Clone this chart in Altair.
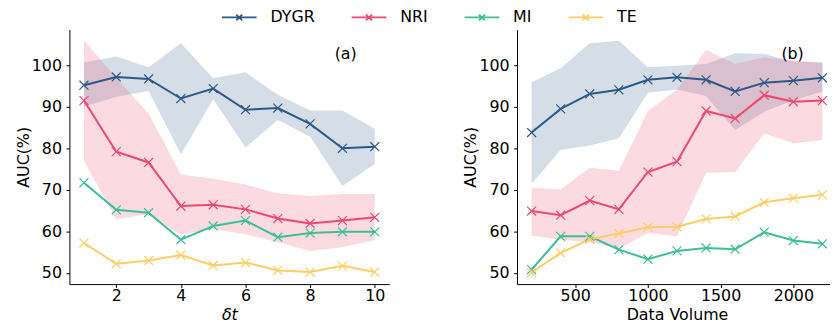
import altair as alt
import pandas as pd

series = ["DYGR", "NRI", "MI", "TE"]
colors = ["#2d5986", "#ef476f", "#3bbf96", "#ffcd66"]

# ---- panel (a): delta t ----
dt = [1, 2, 3, 4, 5, 6, 7, 8, 9, 10]
a_dygr = [95.2, 97.2, 96.7, 92.0, 94.4, 89.3, 89.7, 85.9, 80.0, 80.4]
a_dygr_hi = [100.7, 102.1, 99.5, 105.3, 96.9, 98.3, 92.9, 89.1, 89.1, 84.7]
a_dygr_lo = [90.0, 92.4, 93.8, 78.6, 91.8, 80.2, 86.8, 82.8, 70.9, 76.2]
a_nri = [91.5, 79.2, 76.6, 66.1, 66.4, 65.3, 63.1, 61.9, 62.6, 63.4]
a_nri_hi = [106.0, 97.0, 88.4, 73.7, 72.7, 71.3, 69.2, 68.5, 69.0, 69.0]
a_nri_lo = [77.0, 62.9, 64.1, 59.2, 60.5, 59.3, 57.4, 55.3, 56.2, 57.9]
a_mi = [71.7, 65.2, 64.5, 58.0, 61.3, 62.6, 58.6, 59.6, 59.9, 59.9]
a_te = [57.2, 52.2, 53.0, 54.3, 51.8, 52.5, 50.6, 50.2, 51.7, 50.2]

# ---- panel (b): data volume ----
vol = [200, 400, 600, 800, 1000, 1200, 1400, 1600, 1800, 2000, 2200]
b_dygr = [83.8, 89.5, 93.1, 94.1, 96.5, 97.1, 96.5, 93.7, 95.8, 96.3, 97.0]
b_dygr_hi = [95.9, 99.3, 105.3, 105.9, 99.5, 99.9, 100.3, 102.9, 102.7, 100.9, 100.7]
b_dygr_lo = [71.5, 79.6, 80.7, 82.4, 93.4, 94.2, 92.6, 84.4, 88.8, 91.6, 93.6]
b_nri = [64.9, 63.9, 67.4, 65.3, 74.3, 76.8, 89.0, 87.2, 92.8, 91.2, 91.5]
b_nri_hi = [70.5, 70.1, 75.3, 74.6, 89.0, 94.2, 103.7, 100.3, 101.9, 101.1, 100.7]
b_nri_lo = [59.0, 58.0, 57.4, 55.8, 59.6, 58.8, 74.1, 74.3, 83.6, 81.2, 82.0]
b_mi = [50.8, 58.8, 58.8, 55.6, 53.3, 55.3, 56.0, 55.7, 59.8, 57.8, 57.0]
b_te = [50.1, 54.8, 58.1, 59.5, 61.0, 61.1, 63.0, 63.6, 67.0, 68.0, 68.8]

labels = ["(a)", "(b)"]
label_x = [9.1, 1995]
label_y = [102.6, 102.7]

y_ticks = [50, 60, 70, 80, 90, 100]
a_ticks = [2, 4, 6, 8, 10]
b_ticks = [500, 1000, 1500, 2000]

XPATH = "M-1,-1L1,1M-1,1L1,-1"
LEGEND_PATH = "M-1,0L1,0M-0.17,-0.17L0.17,0.17M-0.17,0.17L0.17,-0.17"


def lines_df(x, vals):
    rows = []
    for s, v in zip(series, vals):
        for xi, yi in zip(x, v):
            rows.append({"x": xi, "y": yi, "series": s})
    return pd.DataFrame(rows)


def bands_df(x, his, los, names):
    rows = []
    for s, hi, lo in zip(names, his, los):
        for xi, h, l in zip(x, hi, lo):
            rows.append({"x": xi, "hi": h, "lo": l, "band": s})
    return pd.DataFrame(rows)


stroke_scale = alt.Scale(domain=series, range=colors)
legend = alt.Legend(
    title=None,
    orient="none",
    direction="horizontal",
    legendX=153,
    legendY=-31,
    symbolType=LEGEND_PATH,
    symbolSize=1225,
    symbolStrokeWidth=1.8,
    labelFontSize=16,
    labelOffset=13,
    columnPadding=33,
    padding=0,
)


def panel(ldf, bdf, tdf, xdomain, xticks, xtitle, italic, show_legend):
    lg = legend if show_legend else None
    x = alt.X(
        "x:Q",
        scale=alt.Scale(domain=xdomain, nice=False, zero=False),
        axis=alt.Axis(values=xticks, title=xtitle, format="d",
                      titleFontStyle="italic" if italic else "normal"),
    )
    yscale = alt.Scale(domain=[47.3, 108.6], nice=False, zero=False)
    y = alt.Y("y:Q", scale=yscale, axis=alt.Axis(values=y_ticks, title="AUC(%)"))
    bands = []
    for name, col in zip(series[:2], colors[:2]):
        bands.append(
            alt.Chart(bdf).transform_filter(alt.datum.band == name)
            .mark_area(opacity=0.2, color=col)
            .encode(
                x=x,
                y=alt.Y("lo:Q", scale=yscale,
                        axis=alt.Axis(values=y_ticks, title="AUC(%)")),
                y2="hi:Q",
            )
        )
    line = alt.Chart(ldf).mark_line(strokeWidth=2).encode(
        x=x, y=y,
        stroke=alt.Stroke("series:N", scale=stroke_scale, legend=lg),
    )
    pts = alt.Chart(ldf).mark_point(shape=XPATH, filled=False, size=81,
                                    strokeWidth=1.2, opacity=1).encode(
        x=x, y=y,
        stroke=alt.Stroke("series:N", scale=stroke_scale, legend=lg),
    )
    txt = alt.Chart(tdf).mark_text(fontSize=16, color="black", align="center",
                                   baseline="middle").encode(
        x=x, y=y, text="t:N"
    )
    return alt.layer(*bands, line, pts, txt).properties(width=323, height=257)


left = panel(
    lines_df(dt, [a_dygr, a_nri, a_mi, a_te]),
    bands_df(dt, [a_dygr_hi, a_nri_hi], [a_dygr_lo, a_nri_lo], ["DYGR", "NRI"]),
    pd.DataFrame({"x": [label_x[0]], "y": [label_y[0]], "t": [labels[0]]}),
    [0.55, 10.45], a_ticks, "δt", True, True,
)
right = panel(
    lines_df(vol, [b_dygr, b_nri, b_mi, b_te]),
    bands_df(vol, [b_dygr_hi, b_nri_hi], [b_dygr_lo, b_nri_lo], ["DYGR", "NRI"]),
    pd.DataFrame({"x": [label_x[1]], "y": [label_y[1]], "t": [labels[1]]}),
    [100, 2300], b_ticks, "Data Volume", False, False,
)

chart = (
    alt.hconcat(left, right, spacing=129, bounds="flush")
    .resolve_scale(stroke="independent")
    .resolve_legend(stroke="independent")
    .properties(
        autosize=alt.AutoSizeParams(type="none"),
        padding={"left": 62, "top": 19, "right": 768, "bottom": 299},
    )
    .configure(font="DejaVu Sans")
    .configure_view(stroke=None)
    .configure_axis(
        grid=False,
        labelFontSize=16,
        titleFontSize=16,
        titleFontWeight="normal",
        labelColor="black",
        titleColor="black",
        domainColor="black",
        tickColor="black",
        tickSize=3.5,
        domainWidth=1,
        tickWidth=1,
        labelFont="DejaVu Sans",
        titleFont="DejaVu Sans",
    )
    .configure_axisX(labelPadding=0, titlePadding=3)
    .configure_axisY(labelPadding=4.5, titlePadding=0)
    .configure_legend(labelFont="DejaVu Sans", labelColor="black")
)

chart.save("out.html", embed_options={"renderer": "svg", "actions": False})
